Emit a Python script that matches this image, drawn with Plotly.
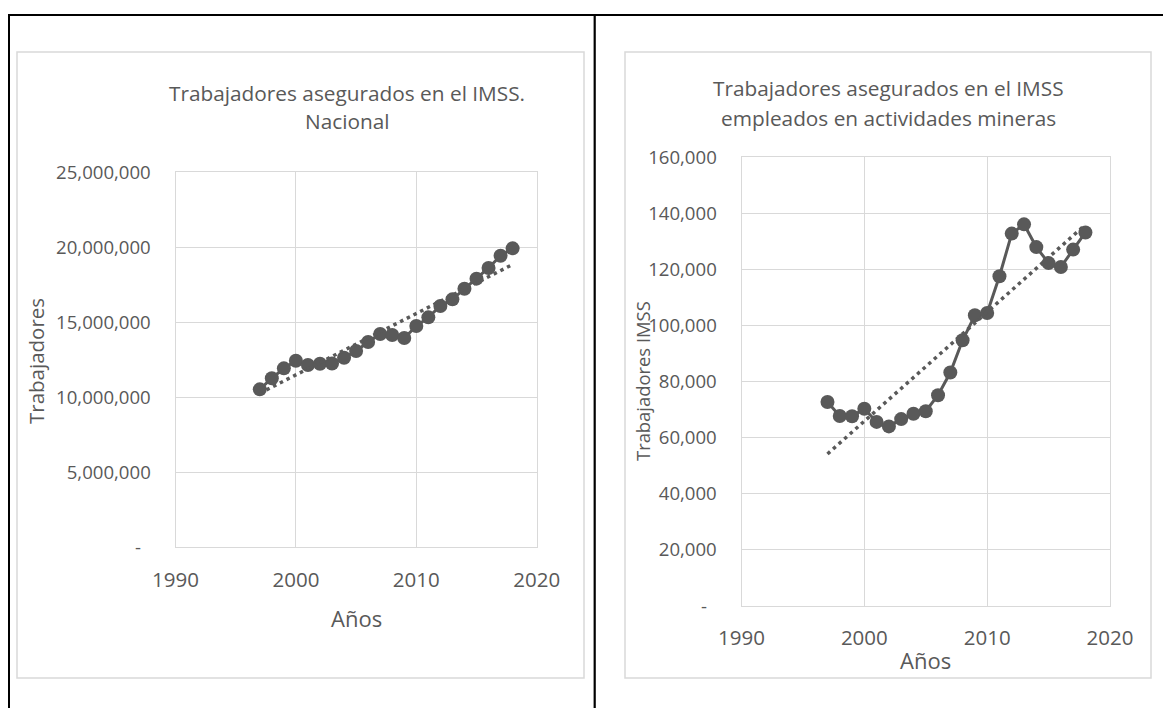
import numpy as np
import plotly.graph_objects as go

# ---------------- data ----------------
years = list(range(1997, 2019))
nacional = [10530000, 11270000, 11930000, 12440000, 12150000, 12240000, 12250000,
            12640000, 13090000, 13690000, 14220000, 14150000, 13950000, 14750000,
            15330000, 16090000, 16530000, 17240000, 17910000, 18620000, 19440000,
            19930000]
mineras = [72700, 67700, 67600, 70300, 65600, 64000, 66600, 68500, 69400, 75100,
           83200, 94700, 103600, 104400, 117500, 132700, 136000, 127900, 122200,
           120800, 127000, 133100]

x_ticks = [1990, 2000, 2010, 2020]
x_labels = ["1990", "2000", "2010", "2020"]
y1_ticks = [0, 5000000, 10000000, 15000000, 20000000, 25000000]
y1_labels = ["-\u00a0\u00a0", "5,000,000", "10,000,000", "15,000,000", "20,000,000", "25,000,000"]
y2_ticks = [0, 20000, 40000, 60000, 80000, 100000, 120000, 140000, 160000]
y2_labels = ["-\u00a0\u00a0", "20,000", "40,000", "60,000", "80,000", "100,000", "120,000", "140,000", "160,000"]

title1 = ["Trabajadores asegurados en el IMSS.", "Nacional"]
title2 = ["Trabajadores asegurados en el IMSS", "empleados en actividades mineras"]
xtitle = "Años"
ytitle1 = "Trabajadores"
ytitle2 = "Trabajadores IMSS"

# ---------------- styles ----------------
OFF = 8                       # page body margin added by the browser
W, H = 1171 - OFF, 708 - OFF
FONT = "Open Sans"
TXT = "#595959"
GRID = "#d9d9d9"
MARK = "#595959"


def px(x):
    return (x - OFF) / W


def py(y):
    return 1 - (y - OFF) / H


def trend(xs, ys):
    c = np.polyfit(xs, ys, 1)
    tx = [xs[0], xs[-1]]
    return tx, list(np.polyval(c, tx))


fig = go.Figure()

for vals, xa, ya in [(nacional, "x", "y"), (mineras, "x2", "y2")]:
    fig.add_trace(go.Scatter(x=years, y=vals, xaxis=xa, yaxis=ya, mode="lines+markers",
                             line=dict(color=MARK, width=3),
                             marker=dict(color=MARK, size=14), hoverinfo="skip"))
    tx, ty = trend(years, vals)
    fig.add_trace(go.Scatter(x=tx, y=ty, xaxis=xa, yaxis=ya, mode="lines",
                             line=dict(color=MARK, width=3.5, dash="3.5px,4px"),
                             hoverinfo="skip"))

axis_common = dict(showgrid=True, gridcolor=GRID, gridwidth=1, zeroline=False,
                   showline=True, linecolor=GRID, linewidth=1, mirror=True, ticks="",
                   automargin=False)
xfont = dict(family=FONT, size=20.5, color=TXT)
yfont = dict(family=FONT, size=18.6, color=TXT)

fig.update_layout(
    width=W, height=H, margin=dict(l=0, r=0, t=0, b=0, pad=0, autoexpand=False),
    paper_bgcolor="white", plot_bgcolor="white", showlegend=False,
    xaxis=dict(domain=[px(175.5), px(536.7)], range=[1990, 2020], anchor="y",
               tickvals=x_ticks, ticktext=x_labels, ticklabelstandoff=14, tickfont=xfont, **axis_common),
    yaxis=dict(domain=[py(547.3), py(172.3)], range=[0, 25000000], anchor="x",
               tickvals=y1_ticks, ticktext=y1_labels, ticklabelstandoff=20, tickfont=yfont, **axis_common),
    xaxis2=dict(domain=[px(741.5), px(1110)], range=[1990, 2020], anchor="y2",
                tickvals=x_ticks, ticktext=x_labels, ticklabelstandoff=13, tickfont=xfont, **axis_common),
    yaxis2=dict(domain=[py(606), py(157)], range=[0, 160000], anchor="x2",
                tickvals=y2_ticks, ticktext=y2_labels, ticklabelstandoff=20, tickfont=yfont, **axis_common),
)

shapes = []
# outer table lines (black)
shapes.append(dict(type="line", xref="paper", yref="paper", x0=0, x1=1, y0=py(15), y1=py(15),
                   line=dict(color="black", width=2.2)))
shapes.append(dict(type="line", xref="paper", yref="paper", x0=px(9), x1=px(9), y0=py(14), y1=0,
                   line=dict(color="black", width=2)))
shapes.append(dict(type="line", xref="paper", yref="paper", x0=px(594.7), x1=px(594.7), y0=py(14), y1=0,
                   line=dict(color="black", width=2.2)))
# chart area borders (light gray)
for x0, x1 in [(17, 584), (625, 1151)]:
    shapes.append(dict(type="rect", xref="paper", yref="paper", x0=px(x0), x1=px(x1),
                       y0=py(678), y1=py(52), line=dict(color=GRID, width=1.5), layer="below"))
fig.update_layout(shapes=shapes)

ann = []


def add_text(text, x, y, size, angle=0):
    ann.append(dict(text=text, x=px(x), y=py(y), xref="paper", yref="paper", showarrow=False,
                    xanchor="center", yanchor="middle", textangle=angle,
                    font=dict(family=FONT, size=size, color=TXT)))


add_text(title1[0], 347, 92.5, 20.8)
add_text(title1[1], 347, 121, 20.8)
add_text(title2[0], 888.5, 88, 20.8)
add_text(title2[1], 888.5, 118.3, 20.8)
add_text(xtitle, 356, 618, 22)
add_text(xtitle, 925.5, 660, 22)
add_text(ytitle1, 36, 361, 20.5, -90)
add_text(ytitle2, 643, 381, 18.4, -90)
fig.update_layout(annotations=ann)

fig.write_html("out.html")
